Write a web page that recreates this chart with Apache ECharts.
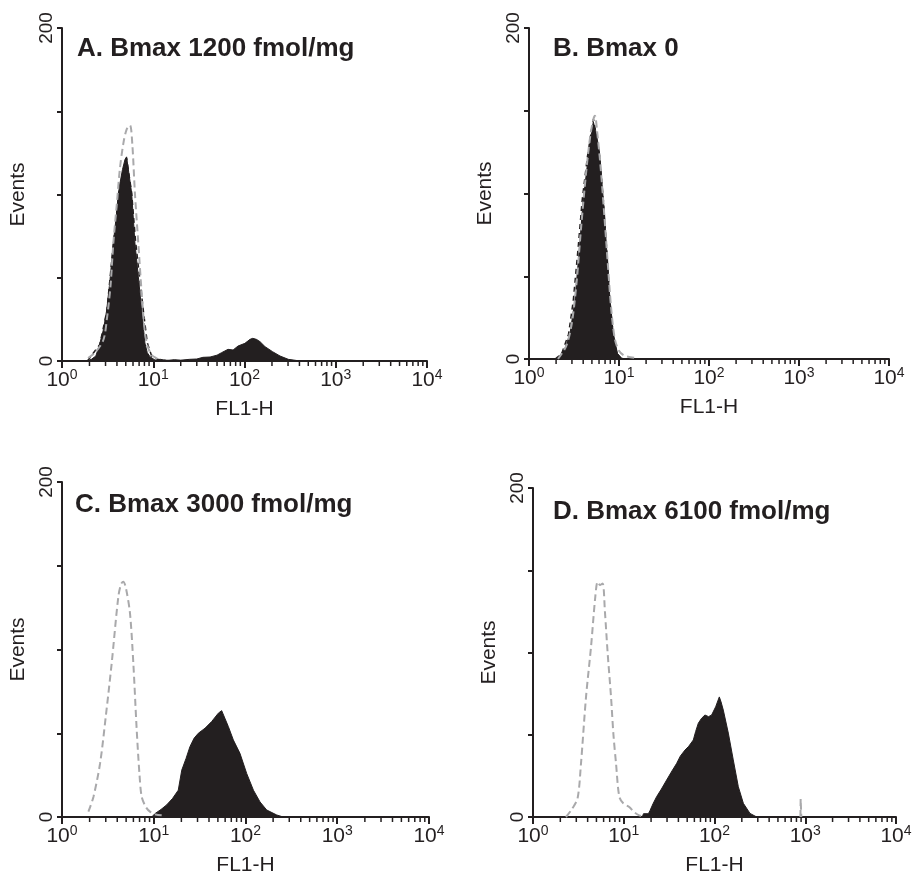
<!DOCTYPE html>
<html>
<head>
<meta charset="utf-8">
<script src="https://cdn.jsdelivr.net/npm/echarts@6/dist/echarts.min.js"></script>
<style>html,body{margin:0;padding:0;background:#fff;}#c{width:916px;height:880px;}</style>
</head>
<body>
<div id="c"></div>
<script>
// ---- Data (FL1-H value, Events) ----
const panelTitles = ['A. Bmax 1200 fmol/mg', 'B. Bmax 0', 'C. Bmax 3000 fmol/mg', 'D. Bmax 6100 fmol/mg'];
const yTickLabels = [0, 200];
const minorTickValues = [2,3,4,5,6,7,8,9,20,30,40,50,60,70,80,90,200,300,400,500,600,700,800,900,2000,3000,4000,5000,6000,7000,8000,9000];

const aSample = [[1.85,0],[2.1,1],[2.35,3],[2.6,10.6],[2.85,19],[3.09,30.6],[3.35,48],[3.65,70.8],[3.95,88],[4.25,104.6],[4.6,115],[4.9,121],[5.1,122.6],[5.4,113],[5.8,100.8],[6.3,70.8],[6.86,50.6],[7.47,30.6],[8.1,10.8],[8.6,5],[9.2,2.6],[10.5,0.5],[12,1],[14,0.3],[17,0.8],[20,0.5],[25,1],[30,1.2],[35,2.2],[42,2.4],[50,3.5],[56,5],[66,7],[75,6.6],[85,9],[101,10.6],[115,13],[123,13.6],[135,13],[148,11.6],[168,8.6],[203,5.6],[245,3],[302,1],[373,0.3],[420,0]];
const aControl = [[1.93,1.8],[2.3,5],[2.84,12.6],[3.1,25],[3.4,45],[3.65,70.6],[4.0,95],[4.3,115],[4.7,130.6],[5.1,139],[5.56,141.6],[5.9,130],[6.3,100.6],[6.86,70.6],[7.47,40.6],[8.0,20],[8.5,10.6],[9.5,4],[10.9,1.6],[12,0.5]];
const aOutline = [[1.9,0],[2.6,10],[3.1,30],[3.65,70],[4.25,104],[5.1,122],[5.8,101],[6.4,72],[7.1,50],[7.8,30],[8.6,11],[9.6,3],[11,1],[13,0.5],[16,0]];

const bSample = [[2.0,0],[2.12,1],[2.5,6],[2.86,15.5],[3.24,35.6],[3.62,65.8],[4.0,96],[4.56,122],[4.9,135],[5.18,143.3],[5.5,138],[6.04,126],[6.7,96],[7.3,65.8],[7.94,35.6],[8.65,15.5],[9.6,3.4],[10.7,0.5],[12,0]];
const bControl = [[2.1,0],[2.6,8],[3.0,22],[3.4,48],[3.8,80],[4.3,112],[4.8,135],[5.2,145],[5.41,147],[5.7,138],[6.2,118],[6.8,90],[7.5,58],[8.2,30],[9.0,12],[10,5],[11.5,2],[15.7,0.5]];
const bOutline = [[1.95,0],[2.3,3],[2.75,15],[3.1,35],[3.5,66],[3.9,96],[4.45,122],[5.0,140],[5.2,145],[5.6,135],[6.1,122],[6.7,96],[7.3,66],[7.9,36],[8.6,15],[9.5,3],[10.5,0]];

const cSample = [[9.5,0],[10.3,2],[12,4.5],[13.8,7.2],[16,11],[18.5,16],[20.2,28],[22.5,35],[24.8,42],[27.5,47],[30.6,50],[36.2,53],[42.8,57],[50.6,62],[55,63.5],[57.3,62.9],[65,54],[73.7,46],[87,38],[103,26],[122,16],[144,9],[170,4.2],[219,1.2],[258,0]];
const cControl = [[1.94,3.2],[2.2,12],[2.6,32],[3.0,60],[3.48,91.8],[4.11,131.5],[4.4,139],[4.66,140.5],[5.0,136],[5.51,121.6],[5.99,91.8],[6.52,52],[7.0,25],[7.39,12.1],[8.2,6],[9.1,3.2],[10.5,1.5],[12.2,1]];

const dSample = [[16,0],[16.5,2],[18.7,2],[19.5,4],[21,8],[23,12.3],[26,17],[29.7,22.5],[34,28],[38.3,32.6],[42,37],[47.3,40.7],[52,43],[58.4,46.8],[62,52],[66.3,57],[72,60],[78.5,62],[86,61],[93,62],[103,67],[113,73],[118,70],[125,65],[142,51],[161,34.7],[183,18.4],[208,8.3],[246,2.2],[292,0]];
const dControl = [[2.31,0],[2.7,5],[3.1,11.4],[3.38,32.6],[3.84,73],[4.36,103.5],[4.86,134],[5.16,143],[5.5,141],[5.86,142],[6.2,125],[6.65,99.5],[7.24,73],[7.7,50],[8.22,32.6],[8.94,12.3],[10,8],[11.5,6.1],[13,3],[14.8,1],[17,0]];
const dSpike = [[885,0],[890,11],[900,11],[905,0]];

// ---- Chart ----
const INK = '#231f20';
const GRAY = '#a9a9ab';
const FONT = '"Liberation Sans", Arial, sans-serif';

const grids = [
  {left: 62, top: 28, width: 365, height: 333},
  {left: 529, top: 28, width: 360, height: 331},
  {left: 62, top: 482, width: 367, height: 335},
  {left: 533, top: 488, width: 363, height: 329}
];
const titlePos = [[77, 36], [553, 36], [75, 492], [553, 499]];

const samples = [aSample, bSample, cSample, dSample];
const controls = [aControl, bControl, cControl, dControl];
const outlines = [aOutline, bOutline, null, null];

const option = {
  animation: false,
  backgroundColor: '#fff',
  textStyle: {fontFamily: FONT, color: INK},
  title: panelTitles.map((t, i) => ({
    text: t, left: titlePos[i][0], top: titlePos[i][1], padding: 0,
    textStyle: {fontFamily: FONT, fontSize: 26, fontWeight: 'bold', color: INK}
  })),
  grid: grids,
  xAxis: grids.map((g, i) => ({
    gridIndex: i, type: 'log', logBase: 10, min: 1, max: 10000,
    name: 'FL1-H', nameLocation: 'middle', nameGap: 38,
    nameTextStyle: {fontFamily: FONT, fontSize: 21, color: INK},
    axisLine: {show: true, lineStyle: {color: INK, width: 2}},
    axisTick: {show: true, length: 7, inside: false, lineStyle: {color: INK, width: 2}},
    splitLine: {show: false},
    axisLabel: {
      margin: 7,
      formatter: v => '{b|10}{s|' + Math.round(Math.log10(v)) + '}',
      rich: {
        b: {fontFamily: FONT, fontSize: 21, color: INK, lineHeight: 25},
        s: {fontFamily: FONT, fontSize: 14, color: INK, lineHeight: 25, verticalAlign: 'top'}
      }
    }
  })),
  yAxis: grids.map((g, i) => ({
    gridIndex: i, type: 'value', min: 0, max: 200, interval: 50,
    name: 'Events', nameLocation: 'middle', nameGap: 33,
    nameTextStyle: {fontFamily: FONT, fontSize: 21, color: INK},
    axisLine: {show: true, lineStyle: {color: INK, width: 2}},
    axisTick: {show: true, length: 5, lineStyle: {color: INK, width: 2}},
    splitLine: {show: false},
    axisLabel: {
      rotate: 90, margin: 6, fontFamily: FONT, fontSize: 19, color: INK,
      formatter: v => (yTickLabels.indexOf(v) >= 0 ? String(v) : '')
    }
  })),
  series: []
};

grids.forEach((g, i) => {
  option.series.push({
    type: 'line', xAxisIndex: i, yAxisIndex: i, data: samples[i],
    symbol: 'none', lineStyle: {color: INK, width: 1}, areaStyle: {color: INK, opacity: 1}, z: 2
  });
  if (outlines[i]) {
    option.series.push({
      type: 'line', xAxisIndex: i, yAxisIndex: i, data: outlines[i],
      symbol: 'none', lineStyle: {color: INK, width: 1.5, type: [5, 4]}, z: 3
    });
  }
  option.series.push({
    type: 'line', xAxisIndex: i, yAxisIndex: i, data: controls[i], smooth: 0.3,
    symbol: 'none', lineStyle: {color: GRAY, width: 2, type: [7, 4]}, z: 4
  });
  option.series.push({
    type: 'custom', xAxisIndex: i, yAxisIndex: i, silent: true, clip: false, z: 5,
    data: minorTickValues.map(v => [v, 0]),
    renderItem: (params, api) => {
      const p = api.coord([api.value(0), 0]);
      return {type: 'line', shape: {x1: p[0], y1: p[1] + 1, x2: p[0], y2: p[1] + 5},
        style: {stroke: INK, lineWidth: 1.5}};
    }
  });
});
option.series.push({
  type: 'line', xAxisIndex: 3, yAxisIndex: 3, data: dSpike,
  symbol: 'none', lineStyle: {color: GRAY, width: 2, type: [7, 4]}, z: 4
});

const chart = echarts.init(document.getElementById('c'), null, {renderer: 'canvas'});
chart.setOption(option);
</script>
</body>
</html>
